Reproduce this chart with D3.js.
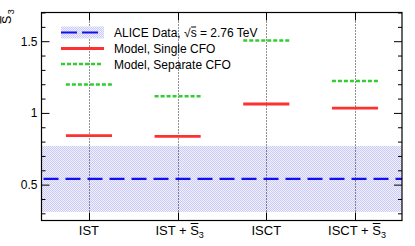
<!DOCTYPE html>
<html>
<head>
<meta charset="utf-8">
<script src="https://cdn.jsdelivr.net/npm/d3@7"></script>
<style>
  body { margin: 0; background: #fff; }
  svg { display: block; font-family: "Liberation Sans", Arial, sans-serif; }
  .tick-label { font-size: 12px; fill: #000; }
  .x-label { font-size: 13px; fill: #000; }
  .legend-label { font-size: 12px; fill: #000; }
</style>
</head>
<body>
<div id="chart"></div>
<script>
// categories (main text, with a "+ S3" suffix flag)
const categories = ["IST", "IST", "ISCT", "ISCT"];
const withS3 = [false, true, false, true];
// model values
const singleCFO = [0.842, 0.836, 1.062, 1.033];
const separateCFO = [1.198, 1.117, 1.505, 1.222];
// ALICE data: value and error band
const aliceValue = [0.54];
const aliceError = [0.23];
const yTicksMajor = [0.5, 1, 1.5];
const yTicksMinor = [0.3, 0.4, 0.6, 0.7, 0.8, 0.9, 1.1, 1.2, 1.3, 1.4, 1.6, 1.7];
const legendNames = ["ALICE Data, ", "Model, Single CFO", "Model, Separate CFO"];

const W = 415, H = 246;
const frame = { left: 41.5, right: 402, top: 12.5, bottom: 220.5 };
const halfWidth = 0.26;

const svg = d3.select('#chart').append('svg')
  .attr('width', W).attr('height', H);

const defs = svg.append('defs');
const pat = defs.append('pattern')
  .attr('id', 'hatch')
  .attr('patternUnits', 'userSpaceOnUse')
  .attr('width', 2).attr('height', 2);
pat.append('rect').attr('width', 2).attr('height', 2).attr('fill', '#f0f0ff');
pat.append('rect').attr('x', 0).attr('y', 0).attr('width', 1).attr('height', 1).attr('fill', '#cacaf4');
pat.append('rect').attr('x', 1).attr('y', 1).attr('width', 1).attr('height', 1).attr('fill', '#cacaf4');

const x = d3.scaleLinear().domain([-0.535, 3.53]).range([frame.left, frame.right]);
const y = d3.scaleLinear().domain([0.25, 1.7]).range([frame.bottom, frame.top]);

defs.append('clipPath').attr('id', 'clip')
  .append('rect')
  .attr('x', frame.left).attr('y', frame.top)
  .attr('width', frame.right - frame.left).attr('height', frame.bottom - frame.top);

// error band
svg.append('rect')
  .attr('x', frame.left)
  .attr('y', y(aliceValue[0] + aliceError[0]))
  .attr('width', frame.right - frame.left)
  .attr('height', y(aliceValue[0] - aliceError[0]) - y(aliceValue[0] + aliceError[0]))
  .attr('fill', 'url(#hatch)');

// vertical dotted grid
svg.append('g').selectAll('line')
  .data(categories)
  .join('line')
  .attr('x1', (d, i) => Math.round(x(i)) + 0.5).attr('x2', (d, i) => Math.round(x(i)) + 0.5)
  .attr('y1', frame.top).attr('y2', frame.bottom)
  .attr('stroke', '#222')
  .attr('stroke-width', 1)
  .attr('stroke-dasharray', '1,2');

// ALICE dashed line
svg.append('line')
  .attr('x1', frame.left + 2).attr('x2', frame.right)
  .attr('y1', y(aliceValue[0])).attr('y2', y(aliceValue[0]))
  .attr('stroke', '#1010f0')
  .attr('stroke-width', 2.2)
  .attr('stroke-dasharray', '15,7')
  .attr('clip-path', 'url(#clip)');

// model segments
const segs = svg.append('g');
segs.selectAll('line.single')
  .data(singleCFO)
  .join('line')
  .attr('class', 'single')
  .attr('x1', (d, i) => x(i - halfWidth)).attr('x2', (d, i) => x(i + halfWidth))
  .attr('y1', d => y(d)).attr('y2', d => y(d))
  .attr('stroke', '#ff3030')
  .attr('stroke-width', 2.8);
segs.selectAll('line.separate')
  .data(separateCFO)
  .join('line')
  .attr('class', 'separate')
  .attr('x1', (d, i) => x(i - halfWidth)).attr('x2', (d, i) => x(i + halfWidth))
  .attr('y1', d => y(d)).attr('y2', d => y(d))
  .attr('stroke', '#33cc33')
  .attr('stroke-width', 2.5)
  .attr('stroke-dasharray', '4,2');

// axes (ticks inside, ROOT style)
const yl = svg.append('g').attr('transform', `translate(${frame.left},0)`)
  .call(d3.axisLeft(y).tickValues(yTicksMajor).tickSize(-8).tickPadding(4).tickFormat(d => String(d)));
const ylm = svg.append('g').attr('transform', `translate(${frame.left},0)`)
  .call(d3.axisLeft(y).tickValues(yTicksMinor).tickSize(-4).tickFormat(''));
const yr = svg.append('g').attr('transform', `translate(${frame.right},0)`)
  .call(d3.axisRight(y).tickValues(yTicksMajor).tickSize(-8).tickFormat(''));
const yrm = svg.append('g').attr('transform', `translate(${frame.right},0)`)
  .call(d3.axisRight(y).tickValues(yTicksMinor).tickSize(-4).tickFormat(''));
const xb = svg.append('g').attr('transform', `translate(0,${frame.bottom})`)
  .call(d3.axisBottom(x).tickValues(d3.range(categories.length)).tickSize(-8).tickFormat(''));
const xt = svg.append('g').attr('transform', `translate(0,${frame.top})`)
  .call(d3.axisTop(x).tickValues(d3.range(categories.length)).tickSize(-8).tickFormat(''));

[yl, ylm, yr, yrm, xb, xt].forEach(g => {
  g.select('.domain').remove();
  g.selectAll('.tick line').attr('stroke', '#000');
});
xb.selectAll('.tick').attr('transform', d => `translate(${Math.round(x(d)) + 0.5},0)`);
xt.selectAll('.tick').attr('transform', d => `translate(${Math.round(x(d)) + 0.5},0)`);
yl.selectAll('.tick text')
  .attr('class', 'tick-label');
yl.attr('font-size', null).attr('font-family', null);

// frame
svg.append('rect')
  .attr('x', frame.left).attr('y', frame.top)
  .attr('width', frame.right - frame.left).attr('height', frame.bottom - frame.top)
  .attr('fill', 'none').attr('stroke', '#000').attr('stroke-width', 1.2);

// helpers: "S" with overline and subscript 3
function appendS3(text, subSize, dx) {
  text.append('tspan').text('S');
  text.append('tspan').style('font-size', subSize + 'px').attr('dx', dx).attr('dy', 3).text('3');
}
function overlineChar(parent, textEl, idx) {
  const e = textEl.node().getExtentOfChar(idx);
  parent.append('line')
    .attr('x1', e.x + 0.5).attr('x2', e.x + e.width - 0.5)
    .attr('y1', e.y + 1).attr('y2', e.y + 1)
    .attr('stroke', '#000').attr('stroke-width', 1);
}

// x labels
categories.forEach((c, i) => {
  const g = svg.append('g');
  const t = g.append('text')
    .attr('class', 'x-label')
    .attr('y', 234.5);
  t.append('tspan').text(withS3[i] ? c + ' + ' : c);
  if (withS3[i]) appendS3(t, 9, 0);
  const w = t.node().getComputedTextLength();
  const base = withS3[i] ? x(i) - w / 2 + 2 : x(i) - w / 2;
  t.attr('x', base);
  if (withS3[i]) overlineChar(g, t, c.length + 3);
});

// y label
const yg = svg.append('g').attr('transform', 'translate(10.8,24) rotate(-90)');
const yt = yg.append('text').style('font-size', '12.5px').attr('x', 0).attr('y', 0);
appendS3(yt, 9, 1.5);
overlineChar(yg, yt, 0);

// legend
const legX0 = 61, legX1 = 104, legText = 114;
const rows = [32.5, 48.5, 64];
const lg = svg.append('g');
lg.append('rect')
  .attr('x', legX0).attr('y', rows[0] - 6)
  .attr('width', legX1 - legX0).attr('height', 12)
  .attr('fill', 'url(#hatch)');
lg.append('line')
  .attr('x1', legX0).attr('x2', legX1 - 6)
  .attr('y1', rows[0]).attr('y2', rows[0])
  .attr('stroke', '#1010f0').attr('stroke-width', 2.2)
  .attr('stroke-dasharray', '16,5');
lg.append('line')
  .attr('x1', legX0).attr('x2', legX1)
  .attr('y1', rows[1]).attr('y2', rows[1])
  .attr('stroke', '#ff3030').attr('stroke-width', 2.8);
lg.append('line')
  .attr('x1', legX0).attr('x2', legX1 - 2)
  .attr('y1', rows[2]).attr('y2', rows[2])
  .attr('stroke', '#33cc33').attr('stroke-width', 2.5)
  .attr('stroke-dasharray', '4,2');

const t0 = lg.append('text').attr('class', 'legend-label')
  .attr('x', legText).attr('y', rows[0] + 4.5);
t0.append('tspan').text(legendNames[0]);
t0.append('tspan').text('\u221A');
t0.append('tspan').text('s');
t0.append('tspan').text(' = 2.76 TeV');
overlineChar(lg, t0, legendNames[0].length + 1);

lg.append('text').attr('class', 'legend-label')
  .attr('x', legText).attr('y', rows[1] + 4.5).text(legendNames[1]);
lg.append('text').attr('class', 'legend-label')
  .attr('x', legText).attr('y', rows[2] + 4.5).text(legendNames[2]);
</script>
</body>
</html>
